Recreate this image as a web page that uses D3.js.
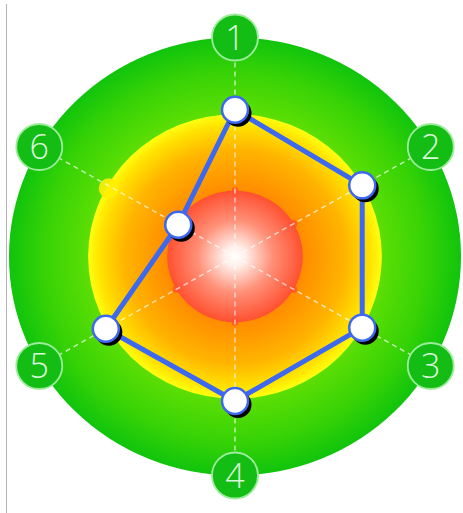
<!DOCTYPE html>
<html>
<head>
<meta charset="utf-8">
<script src="https://cdn.jsdelivr.net/npm/d3@7"></script>
<style>
  html, body { margin: 0; padding: 0; background: #fff; }
</style>
</head>
<body>
<svg id="radar" width="463" height="513"></svg>
<script>
// axis labels, values and band limits
var axes = ["1", "2", "3", "4", "5", "6"];
var values = [6.7, 6.5, 6.5, 6.6, 6.6, 2.9];
var bands = [3, 6.5, 10];   // red, yellow, green
var maxValue = 10;

window.onload = () => {
  draw_radar()
}

function draw_radar(){
  var svg = d3.select("#radar"),
    cx = 235,
    cy = 256.5;

  // chart is slightly wider than tall
  var rX = d3.scaleLinear().domain([0, maxValue]).range([0, 226]);
  var rY = d3.scaleLinear().domain([0, maxValue]).range([0, 219]);
  var angle = d3.scaleLinear().domain([0, axes.length]).range([0, 2 * Math.PI]);

  function px(i, v){ return cx + rX(v) * Math.sin(angle(i)); }
  function py(i, v){ return cy - rY(v) * Math.cos(angle(i)); }

  // thin gray frame line on the left
  svg.append("line")
    .attr("x1", 6.5).attr("x2", 6.5)
    .attr("y1", 4).attr("y2", 513)
    .attr("stroke", "#b4b4b4")
    .attr("stroke-width", 1);

  var defs = svg.append("defs");

  function radial(id, stops){
    var g = defs.append("radialGradient").attr("id", id)
      .attr("cx", "50%").attr("cy", "50%").attr("r", "50%");
    stops.forEach(function(s){
      g.append("stop").attr("offset", s[0]).attr("stop-color", s[1]);
    });
  }
  radial("gGreen", [[0, "#88ee00"], [0.62, "#62e004"], [0.85, "#36d206"], [1, "#10c40c"]]);
  radial("gYellow", [[0, "#ff7a00"], [0.45, "#ff8a00"], [0.75, "#ffb400"], [0.92, "#ffe200"], [1, "#ffff10"]]);
  radial("gRed", [[0, "#ffffff"], [0.15, "#fff0ea"], [0.55, "#ff9078"], [1, "#ff5030"]]);

  var fills = ["url(#gRed)", "url(#gYellow)", "url(#gGreen)"];

  // bands, drawn from outside in
  svg.append("g")
    .selectAll("ellipse")
    .data(bands.map(function(b, i){ return {v: b, f: fills[i]}; }).reverse())
    .enter()
    .append("ellipse")
      .attr("cx", cx)
      .attr("cy", cy)
      .attr("rx", function(d){ return rX(d.v); })
      .attr("ry", function(d){ return rY(d.v); })
      .attr("fill", function(d){ return d.f; });

  // small yellow glow on axis 6 at the yellow edge
  svg.append("circle")
    .attr("cx", px(5, bands[1]) + 1)
    .attr("cy", py(5, bands[1]) + 3)
    .attr("r", 10)
    .attr("fill", "#ffee00")
    .attr("opacity", 0.9);

  // small nubs where axes meet the red disc
  svg.append("g")
    .selectAll("circle")
    .data(axes)
    .enter()
    .append("circle")
      .attr("cx", function(d, i){ return px(i, bands[0]); })
      .attr("cy", function(d, i){ return py(i, bands[0]); })
      .attr("r", 3.5)
      .attr("fill", "#ff5030")
      .attr("opacity", 0.8);

  // dashed spokes
  svg.append("g")
    .selectAll("line")
    .data(axes)
    .enter()
    .append("line")
      .attr("x1", cx)
      .attr("y1", cy)
      .attr("x2", function(d, i){ return px(i, maxValue); })
      .attr("y2", function(d, i){ return py(i, maxValue); })
      .attr("stroke", "#ffffff")
      .attr("stroke-opacity", 0.65)
      .attr("stroke-width", 1.5)
      .attr("stroke-dasharray", "5,4");

  // axis label badges
  var lab = svg.append("g")
    .selectAll("g")
    .data(axes)
    .enter()
    .append("g")
      .attr("transform", function(d, i){
        return "translate(" + px(i, maxValue) + "," + py(i, maxValue) + ")";
      });
  lab.append("circle")
    .attr("r", 23)
    .attr("fill", "#13bd13")
    .attr("stroke", "#9cec9c")
    .attr("stroke-width", 1.8);
  lab.append("text")
    .text(function(d){ return d; })
    .attr("text-anchor", "middle")
    .attr("dy", "0.36em")
    .attr("font-family", "Open Sans, sans-serif")
    .attr("font-weight", 300)
    .attr("font-size", 34)
    .attr("fill", "#dcf8dc");

  // data polygon
  var line = d3.line()
    .x(function(d, i){ return px(i, d); })
    .y(function(d, i){ return py(i, d); })
    .curve(d3.curveLinearClosed);

  svg.append("path")
    .datum(values)
    .attr("d", line)
    .attr("fill", "none")
    .attr("stroke", "#3d68f0")
    .attr("stroke-width", 5)
    .attr("stroke-linejoin", "round");

  // markers with black drop shadow
  var pts = svg.append("g")
    .selectAll("g")
    .data(values)
    .enter()
    .append("g")
      .attr("transform", function(d, i){
        return "translate(" + px(i, d) + "," + py(i, d) + ")";
      });
  pts.append("circle")
    .attr("cx", 3)
    .attr("cy", 3.5)
    .attr("r", 13.5)
    .attr("fill", "#000");
  pts.append("circle")
    .attr("r", 13)
    .attr("fill", "#ffffff")
    .attr("stroke", "#3d68f0")
    .attr("stroke-width", 2.5);
}
</script>
</body>
</html>
